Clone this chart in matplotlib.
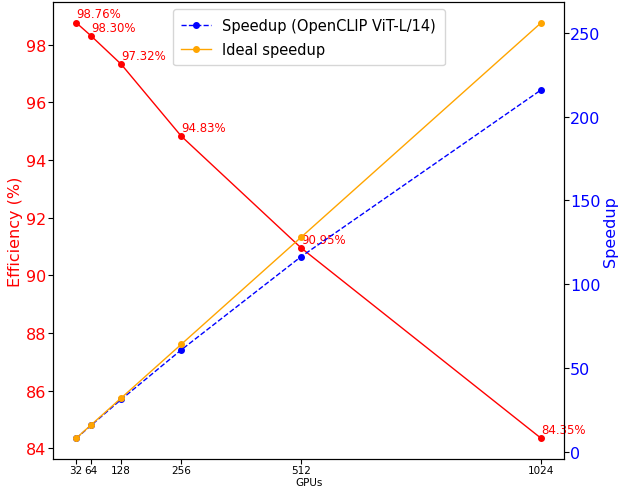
import matplotlib.pyplot as plt
import numpy as np

gpus = [32, 64, 128, 256, 512, 1024]
efficiency = [98.76, 98.30, 97.32, 94.83, 90.95, 84.35]
speedup = [7.90, 15.73, 31.14, 60.69, 116.42, 215.94]
ideal = [8, 16, 32, 64, 128, 256]

fig, ax1 = plt.subplots(figsize=(6.23, 4.89), dpi=100)
fig.subplots_adjust(left=0.085, right=0.906, bottom=0.059, top=0.994)

ax1.plot(gpus, efficiency, color='red', marker='o', markersize=4, linewidth=1)
for g, e in zip(gpus, efficiency):
    ax1.text(g, e + 0.08, f'{e:.2f}%', color='red', fontsize=8.5, va='bottom', ha='left')
ax1.set_ylabel('Efficiency (%)', color='red', fontsize=11.5, labelpad=2)
ax1.tick_params(axis='y', labelcolor='red', labelsize=11.5, pad=1.5)
ax1.set_xlabel('GPUs', fontsize=7.5, labelpad=1)
ax1.set_xticks(gpus)
ax1.set_xticklabels([str(g) for g in gpus], fontsize=7.5)
ax1.tick_params(axis='x', pad=1)

ax2 = ax1.twinx()
ax2.plot(gpus, speedup, color='blue', linestyle='--', marker='o', markersize=4,
         linewidth=1, label='Speedup (OpenCLIP ViT-L/14)')
ax2.plot(gpus, ideal, color='orange', marker='o', markersize=4, linewidth=1,
         label='Ideal speedup')
ax2.set_ylabel('Speedup', color='blue', fontsize=11.5, labelpad=2)
ax2.tick_params(axis='y', labelcolor='blue', labelsize=11.5, pad=0.5)
ax2.legend(loc='upper center', fontsize=10.5, borderpad=0.6, labelspacing=0.6)

plt.savefig('out.png')
